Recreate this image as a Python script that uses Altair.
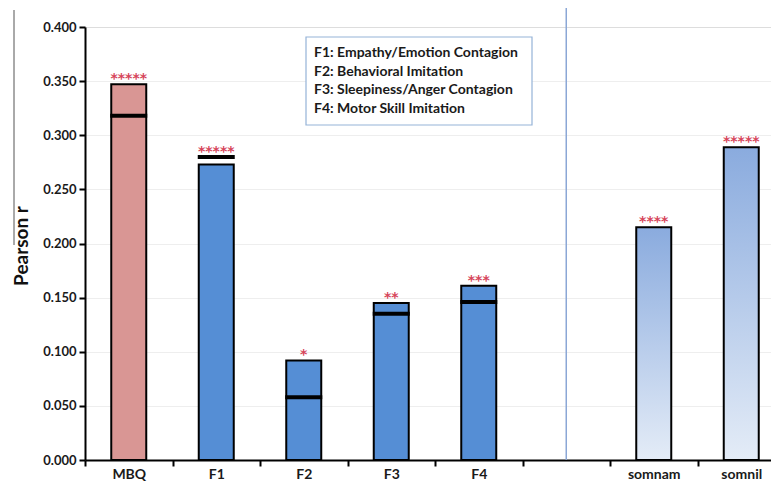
import altair as alt
import pandas as pd

categories = ["MBQ", "F1", "F2", "F3", "F4", " ", "somnam", "somnil"]
bar_cats = ["MBQ", "F1", "F2", "F3", "F4", "somnam", "somnil"]
values = [0.347, 0.273, 0.092, 0.145, 0.161, 0.215, 0.289]
markers = [0.318, 0.280, 0.058, 0.135, 0.146, None, None]
stars = ["*****", "*****", "*", "**", "***", "****", "*****"]
groups = ["MBQ", "F", "F", "F", "F", "som", "som"]
legend_lines = [
    "F1: Empathy/Emotion Contagion",
    "F2: Behavioral Imitation",
    "F3: Sleepiness/Anger Contagion",
    "F4: Motor Skill Imitation",
]

df = pd.DataFrame({"cat": bar_cats, "r": values, "m": markers, "stars": stars, "grp": groups})
df["top"] = [max(v, m) if m is not None else v for v, m in zip(values, markers)]

FONT = "Lato"
W, H = 686, 433
TOP = 19

xscale = alt.Scale(domain=categories, range=[0, 700], paddingInner=0, paddingOuter=0)
x_enc = alt.X(
    "cat:N",
    scale=xscale,
    axis=alt.Axis(
        title=None, labelAngle=0, tickBand="extent", domainColor="black", domainWidth=2,
        tickColor="black", tickWidth=2, tickSize=6, labelPadding=1,
        labelFont=FONT, labelFontSize=14, labelFontWeight="bold", labelColor="#1a1a1a",
        grid=False,
    ),
)
y_enc = alt.Y(
    "r:Q",
    scale=alt.Scale(domain=[0, 0.4], nice=False),
    axis=alt.Axis(
        title="Pearson r", values=[0, 0.05, 0.1, 0.15, 0.2, 0.25, 0.3, 0.35, 0.4], format=".3f",
        domainColor="black", domainWidth=2, tickColor="black", tickWidth=2, tickSize=6,
        labelPadding=3, labelFont=FONT, labelFontSize=13, labelFontWeight="bold", labelColor="#1a1a1a",
        grid=True, gridColor="#dcdcdc", gridDash=[1, 1], gridWidth=1,
        titleFont=FONT, titleFontSize=19, titleFontWeight="bold", titleColor="#111111",
        titleX=-64, titleY=H / 2 + 2, titleAngle=270, titleBaseline="middle", titleAlign="center",
    ),
)

base = alt.Chart(df)

solid = base.transform_filter("datum.grp != 'som'").mark_bar(
    width=alt.RelativeBandSize(0.4), stroke="black", strokeWidth=2
).encode(
    x=x_enc, y=y_enc,
    fill=alt.Fill("grp:N", scale=alt.Scale(domain=["MBQ", "F"], range=["#d99694", "#558ed5"]), legend=None),
)

grad = alt.LinearGradient(
    gradient="linear",
    stops=[alt.GradientStop(color="#8aabde", offset=0), alt.GradientStop(color="#e4ecf7", offset=1)],
    x1=0, x2=0, y1=0, y2=1,
)
gradbars = base.transform_filter("datum.grp == 'som'").mark_bar(
    width=alt.RelativeBandSize(0.4), stroke="black", strokeWidth=2, fill=grad
).encode(x=alt.X("cat:N"), y=alt.Y("r:Q"))

ticks = base.transform_filter("isValid(datum.m)").mark_tick(
    size=37, thickness=4, color="black", opacity=1
).encode(x=alt.X("cat:N"), y=alt.Y("m:Q"))

startext = base.mark_text(
    font="DejaVu Sans", fontSize=14, fontWeight="bold", color="#d6455a", baseline="alphabetic", dy=-1
).encode(x=alt.X("cat:N"), y=alt.Y("top:Q"), text="stars:N")

sep = alt.Chart(pd.DataFrame({"cat": [" "]})).mark_rule(color="#8ba7d6", strokeWidth=1.5).encode(
    x=alt.X("cat:N"), y=alt.value(-TOP - 8), y2=alt.value(H)
)

leftline = alt.Chart(pd.DataFrame({"a": [0]})).mark_rule(color="#555555", strokeWidth=1).encode(
    x=alt.value(-71), y=alt.value(-17), y2=alt.value(218)
)

legbox = alt.Chart(pd.DataFrame({"a": [0]})).mark_rect(
    fill="white", stroke="#95b3d7", strokeWidth=1.2
).encode(x=alt.value(221), x2=alt.value(447), y=alt.value(10), y2=alt.value(98))

legtext = alt.Chart(pd.DataFrame({"t": ["\n".join(legend_lines)]})).mark_text(
    font=FONT, fontSize=14, fontWeight="bold", color="#1a1a1a", align="left", baseline="top",
    lineBreak="\n", lineHeight=18.5,
).encode(x=alt.value(229), y=alt.value(19), text="t:N")

chart = alt.layer(solid, gradbars, ticks, startext, sep, leftline, legbox, legtext).properties(
    width=W, height=H,
    padding={"left": 77, "top": TOP, "right": 0, "bottom": 22},
    autosize=alt.AutoSizeParams(type="none"),
).configure_view(stroke=None).configure(background="white")

chart.save("out.html", embed_options={"renderer": "svg", "actions": False})
